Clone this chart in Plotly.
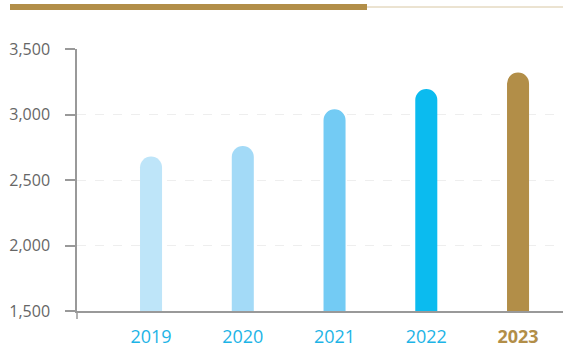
import plotly.graph_objects as go

years = ["2019", "2020", "2021", "2022", "2023"]
values = [2680, 2760, 3040, 3195, 3320]
bar_colors = ["#BEE5F9", "#A3DAF7", "#73CBF4", "#0BBBEF", "#B28E48"]
tick_text = ["2019", "2020", "2021", "2022",
             "<b><span style='color:#B28E48'>2023</span></b>"]
y_ticks = [1500, 2000, 2500, 3000, 3500]
y_tick_text = ["1,500", "2,000", "2,500", "3,000", "3,500"]

W, H = 563, 348
L, T, B = 77, 49, 37
plot_h = H - T - B
plot_w = W - L

fig = go.Figure(go.Bar(
    x=list(range(len(years))), y=values,
    marker=dict(color=bar_colors, line=dict(width=0)),
    width=0.24, hoverinfo="skip",
))

def px_to_paper_x(px):
    return (px - L) / plot_w

def px_to_paper_y(py):
    return (H - B - py) / plot_h

shapes = [
    dict(type="rect", xref="paper", yref="paper",
         x0=px_to_paper_x(10), x1=px_to_paper_x(367),
         y0=px_to_paper_y(10), y1=px_to_paper_y(4),
         fillcolor="#B28E48", line=dict(width=0), layer="above"),
    dict(type="line", xref="paper", yref="paper",
         x0=px_to_paper_x(367), x1=1.0,
         y0=px_to_paper_y(7), y1=px_to_paper_y(7),
         line=dict(color="#D8C7A3", width=1)),
    dict(type="line", xref="paper", yref="paper",
         x0=0, x1=0, y0=0, y1=px_to_paper_y(319),
         line=dict(color="#999999", width=1.5)),
]

fig.update_layout(
    width=W, height=H,
    margin=dict(l=L, r=0, t=T, b=B, pad=0, autoexpand=False),
    paper_bgcolor="white", plot_bgcolor="white",
    showlegend=False,
    barcornerradius="50%",
    font=dict(family="Open Sans", color="#666666"),
    shapes=shapes,
    xaxis=dict(
        range=[-0.807, 4.49], tickmode="array",
        tickvals=list(range(len(years))), ticktext=tick_text,
        showgrid=False, zeroline=False, automargin=False,
        showline=True, linecolor="#999999", linewidth=1.5,
        ticks="", ticklabelstandoff=9,
        tickfont=dict(size=18, color="#1DB4E6", family="Open Sans"),
    ),
    yaxis=dict(
        range=[1500, 3500], tickmode="array",
        tickvals=y_ticks, ticktext=y_tick_text,
        showgrid=True, gridcolor="#EEEEEE", griddash="dash", gridwidth=1,
        zeroline=False, automargin=False,
        showline=True, linecolor="#999999", linewidth=1.5,
        ticks="outside", ticklen=10, tickcolor="#999999", tickwidth=1.5,
        ticklabelstandoff=12,
        tickfont=dict(size=16, color="#666666", family="Open Sans"),
    ),
)

fig.write_html("out.html")
